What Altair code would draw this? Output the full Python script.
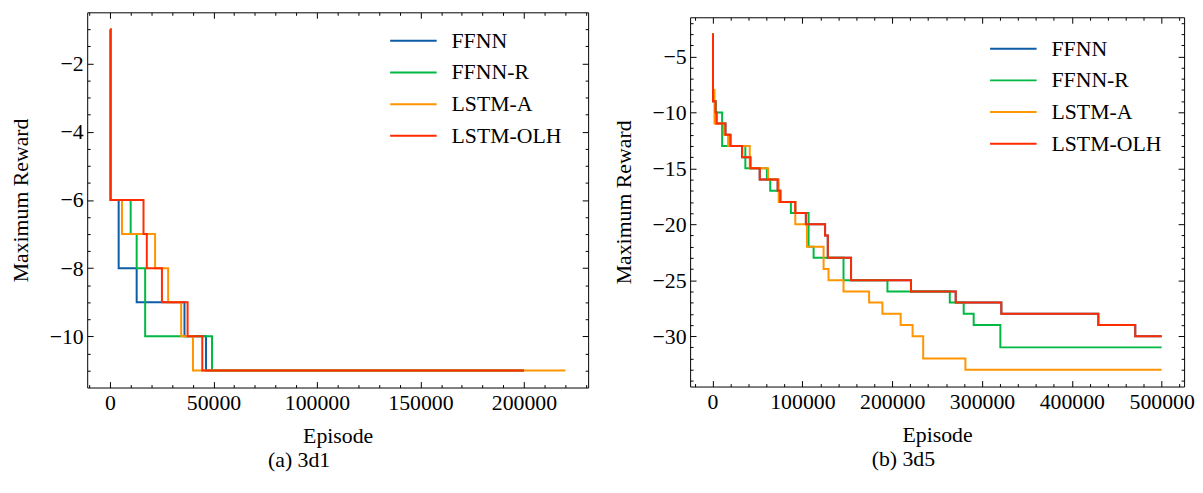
import altair as alt
import pandas as pd

MODELS = ["FFNN", "FFNN-R", "LSTM-A", "LSTM-OLH"]
COLORS = ["#0C5DA5", "#00B945", "#FF9500", "#FF2C00"]

# ---- Panel (a) 3d1 : change points (episode, maximum reward) ----
a_ffnn_ep = [0, 300, 4200, 12900, 36000, 46400, 200000]
a_ffnn_rw = [-1, -6, -8, -9, -10, -11, -11]
a_ffnnr_ep = [0, 300, 10000, 12900, 17000, 49300, 200000]
a_ffnnr_rw = [-1, -6, -7, -8, -10, -11, -11]
a_lstma_ep = [0, 300, 5800, 21800, 28100, 34400, 40100, 220000]
a_lstma_rw = [-1, -6, -7, -8, -9, -10, -11, -11]
a_olh_ep = [0, 300, 16200, 17800, 25100, 37500, 44600, 200000]
a_olh_rw = [-1, -6, -7, -8, -9, -10, -11, -11]

# ---- Panel (b) 3d5 ----
b_olh_ep = [0, 500, 3300, 4400, 14350, 19900, 32900, 42100, 52500, 72500, 75400,
            92100, 103900, 125300, 128300, 154200, 220900, 270700, 321500, 429500,
            470600, 500000]
b_olh_rw = [-3, -9, -10, -11, -12, -13, -14, -15, -16, -17, -18, -19, -20, -21, -23,
            -25, -26, -27, -28, -29, -30, -30]
b_ffnn_ep = list(b_olh_ep)
b_ffnn_rw = list(b_olh_rw)
b_ffnnr_ep = [0, 500, 3300, 10650, 36500, 60500, 64200, 75400, 87200, 106900, 112500,
              145800, 194700, 264100, 279600, 290700, 320400, 500000]
b_ffnnr_rw = [-3, -9, -10, -13, -15, -16, -17, -18, -19, -22, -23, -25, -26, -27, -28,
              -29, -31, -31]
b_lstma_ep = [0, 500, 2150, 12500, 17300, 41400, 61800, 73600, 92100, 105100, 123600,
              129100, 145800, 174300, 189100, 209400, 222700, 234500, 281500, 500000]
b_lstma_rw = [-3, -8, -11, -12, -13, -15, -16, -18, -20, -22, -24, -25, -26, -27, -28,
              -29, -30, -32, -33, -33]

# axis ticks
a_x_major = [0, 50000, 100000, 150000, 200000]
a_x_minor = [v for v in range(-10000, 231000, 10000) if v % 50000 != 0]
a_y_major = [-10, -8, -6, -4, -2]
a_y_minor = [v / 2 for v in range(-22, -1) if v % 4 != 0]
b_x_major = [0, 100000, 200000, 300000, 400000, 500000]
b_x_minor = [v for v in range(-20000, 521000, 20000) if v % 100000 != 0]
b_y_major = [-30, -25, -20, -15, -10, -5]
b_y_minor = [v for v in range(-34, -1) if v % 5 != 0]

FONT = "Liberation Serif"
FS = 22


def build_df(eps, rws):
    rows = []
    for m, e, r in zip(MODELS, eps, rws):
        for x, y in zip(e, r):
            rows.append({"model": m, "episode": x, "reward": y})
    return pd.DataFrame(rows)


def ax(**kw):
    base = dict(domain=False, grid=False, tickColor="black", tickWidth=1,
                labelFont=FONT, labelFontSize=FS, labelColor="black",
                titleFont=FONT, titleFontSize=FS, titleColor="black",
                titleFontWeight="normal")
    base.update(kw)
    return alt.Axis(**base)


def panel(df, xdom, ydom, xmaj, xmin, ymaj, ymin, w, h, caption, lx, ly):
    xs = alt.Scale(domain=xdom, nice=False, zero=False)
    ys = alt.Scale(domain=ydom, nice=False, zero=False)
    lines = alt.Chart(df).mark_line(interpolate="step-after", strokeWidth=2).encode(
        x=alt.X("episode:Q", scale=xs,
                axis=ax(orient="bottom", values=xmaj, offset=-6, tickSize=6,
                        labelPadding=5, format="d", title="Episode", titlePadding=13)),
        y=alt.Y("reward:Q", scale=ys,
                axis=ax(orient="left", values=ymaj, offset=-6, tickSize=6,
                        labelPadding=4, format="d", title="Maximum Reward",
                        titlePadding=17)),
        color=alt.Color("model:N", scale=alt.Scale(domain=MODELS, range=COLORS),
                        legend=alt.Legend(orient="none", legendX=lx, legendY=ly,
                                          title=None, symbolType="stroke",
                                          symbolSize=2209, symbolStrokeWidth=2,
                                          labelFont=FONT, labelFontSize=FS,
                                          labelColor="black", labelOffset=14,
                                          clipHeight=31.5, rowPadding=0, padding=0)),
    )
    base = alt.Chart(df).mark_point(opacity=0)
    minor_bl = base.encode(
        x=alt.X("episode:Q", scale=xs, axis=ax(orient="bottom", values=xmin, offset=-3,
                                               tickSize=3, labels=False, title=None)),
        y=alt.Y("reward:Q", scale=ys, axis=ax(orient="left", values=ymin, offset=-3,
                                              tickSize=3, labels=False, title=None)),
    )
    major_tr = base.encode(
        x=alt.X("episode:Q", scale=xs, axis=ax(orient="top", values=xmaj, offset=-6,
                                               tickSize=6, labels=False, title=None)),
        y=alt.Y("reward:Q", scale=ys, axis=ax(orient="right", values=ymaj, offset=-6,
                                              tickSize=6, labels=False, title=None)),
    )
    minor_tr = base.encode(
        x=alt.X("episode:Q", scale=xs, axis=ax(orient="top", values=xmin, offset=-3,
                                               tickSize=3, labels=False, title=None)),
        y=alt.Y("reward:Q", scale=ys, axis=ax(orient="right", values=ymin, offset=-3,
                                              tickSize=3, labels=False, title=None)),
    )
    return alt.layer(lines, minor_bl, major_tr, minor_tr).resolve_axis(
        x="independent", y="independent").properties(
        width=w, height=h,
        title=alt.TitleParams(text=caption, orient="bottom", anchor="middle",
                              frame="bounds", font=FONT, fontSize=FS,
                              fontWeight="normal", color="black", offset=3),
    )


df_a = build_df([a_ffnn_ep, a_ffnnr_ep, a_lstma_ep, a_olh_ep],
                [a_ffnn_rw, a_ffnnr_rw, a_lstma_rw, a_olh_rw])
df_b = build_df([b_ffnn_ep, b_ffnnr_ep, b_lstma_ep, b_olh_ep],
                [b_ffnn_rw, b_ffnnr_rw, b_lstma_rw, b_olh_rw])

left = panel(df_a, [-11000, 231000], [-11.5, -0.5], a_x_major, a_x_minor,
             a_y_major, a_y_minor, 506, 379, "(a) 3d1", 305, 13)
right = panel(df_b, [-25000, 525000], [-34.5, -1.5], b_x_major, b_x_minor,
              b_y_major, b_y_minor, 499, 373, "(b) 3d5", 302, 21)

# small empty block that lowers panel (b) a few pixels, as in the original figure
top_gap = alt.Chart(pd.DataFrame({"s": [0]})).mark_rule(strokeOpacity=0).encode(
    x=alt.value(0), y=alt.value(0)
).properties(width=1, height=1, view=alt.ViewBackground(strokeOpacity=0))
right_col = alt.vconcat(top_gap, right, spacing=3)

chart = alt.concat(left, right_col, columns=2, spacing=23, align="none").resolve_scale(
    color="independent", x="independent", y="independent"
).properties(
    padding={"left": 1, "top": 1, "right": 0, "bottom": 2},
    background="white",
).configure_view(stroke="black", strokeWidth=1)

chart.save("out.html", embed_options={"renderer": "svg", "actions": False})
